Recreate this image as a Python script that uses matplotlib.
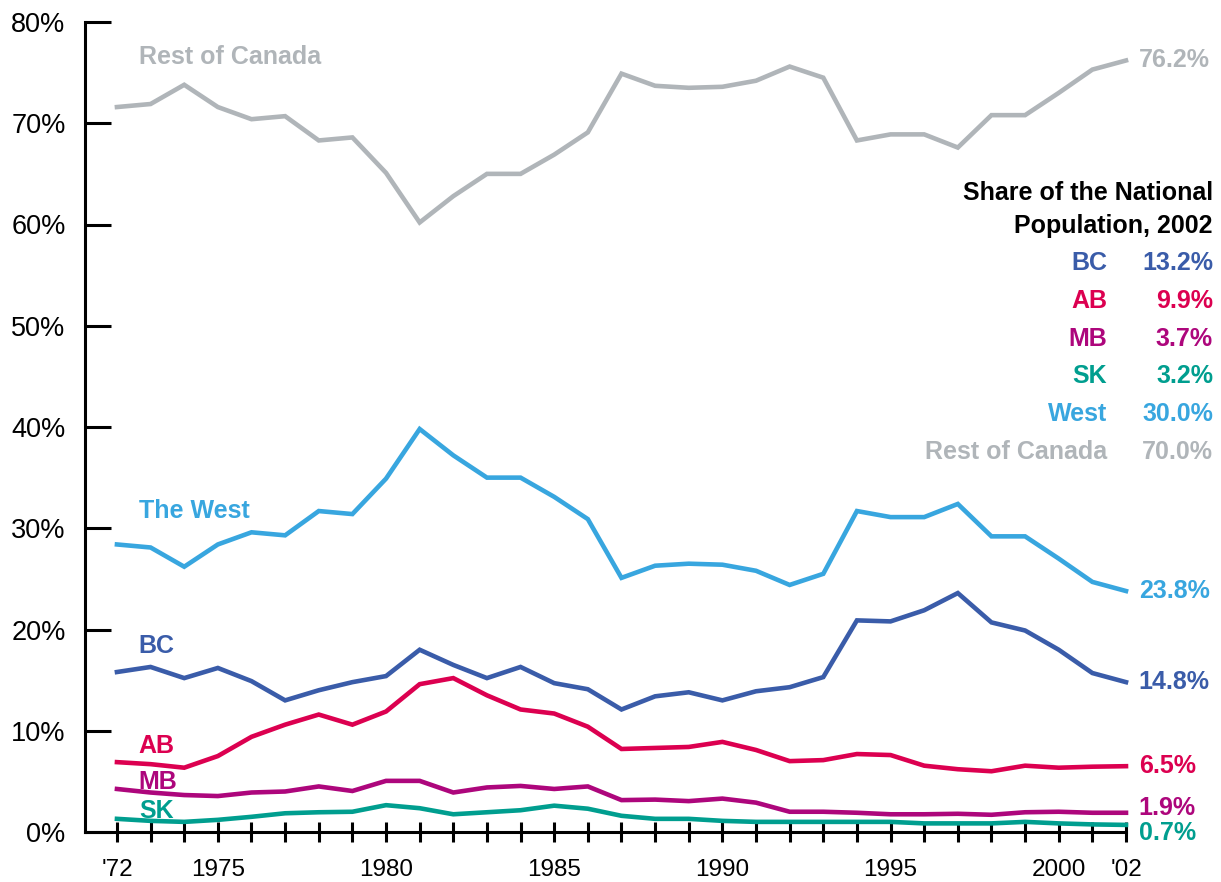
import numpy as np
import matplotlib
matplotlib.use("Agg")
import matplotlib.pyplot as plt

plt.rcParams['font.family'] = ['Liberation Sans Narrow', 'Liberation Sans', 'DejaVu Sans']

years = list(range(1972, 2003))

rest_of_canada = [71.6, 71.9, 73.8, 71.6, 70.4, 70.7, 68.3, 68.6, 65.1, 60.2, 62.8, 65.0, 65.0, 66.9,
                  69.1, 74.9, 73.7, 73.5, 73.6, 74.2, 75.6, 74.5, 68.3, 68.9, 68.9, 67.6, 70.8, 70.8,
                  73.0, 75.3, 76.2]
west = [28.4, 28.1, 26.2, 28.4, 29.6, 29.3, 31.7, 31.4, 34.9, 39.8, 37.2, 35.0, 35.0, 33.1,
        30.9, 25.1, 26.3, 26.5, 26.4, 25.8, 24.4, 25.5, 31.7, 31.1, 31.1, 32.4, 29.2, 29.2,
        27.0, 24.7, 23.8]
bc = [15.8, 16.3, 15.2, 16.2, 14.9, 13.0, 14.0, 14.8, 15.4, 18.0, 16.5, 15.2, 16.3, 14.7,
      14.1, 12.1, 13.4, 13.8, 13.0, 13.9, 14.3, 15.3, 20.9, 20.8, 21.9, 23.6, 20.7, 19.9,
      18.0, 15.7, 14.8]
ab = [6.9, 6.7, 6.35, 7.5, 9.4, 10.6, 11.6, 10.6, 11.9, 14.6, 15.2, 13.5, 12.1, 11.7,
      10.4, 8.2, 8.3, 8.4, 8.9, 8.1, 7.0, 7.1, 7.7, 7.6, 6.55, 6.2, 6.0, 6.55, 6.35, 6.45, 6.5]
mb = [4.25, 3.9, 3.65, 3.55, 3.9, 4.0, 4.5, 4.05, 5.05, 5.05, 3.9, 4.4, 4.55, 4.25, 4.5,
      3.15, 3.2, 3.05, 3.3, 2.9, 2.0, 2.0, 1.9, 1.75, 1.75, 1.8, 1.7, 1.95, 2.0, 1.9, 1.9]
sk = [1.3, 1.1, 1.0, 1.2, 1.5, 1.85, 1.95, 2.0, 2.65, 2.35, 1.75, 1.95, 2.15, 2.6, 2.3,
      1.6, 1.3, 1.3, 1.1, 1.0, 1.0, 1.0, 1.0, 1.0, 0.85, 0.85, 0.85, 1.0, 0.85, 0.75, 0.7]

names = ['BC', 'AB', 'MB', 'SK', 'West', 'Rest of Canada']
shares_2002 = ['13.2%', '9.9%', '3.7%', '3.2%', '30.0%', '70.0%']
end_labels = ['76.2%', '23.8%', '14.8%', '6.5%', '1.9%', '0.7%']

c_gray = '#b0b5b9'
c_west = '#38a6df'
c_bc = '#3a5ca9'
c_ab = '#dc0050'
c_mb = '#ad067c'
c_sk = '#009e8f'

fig = plt.figure(figsize=(12.21, 8.82), dpi=100)
ax = fig.add_axes([85/1221, 50/882, 1041/1221, 810/882])

series = [rest_of_canada, west, bc, ab, mb, sk]
colors = [c_gray, c_west, c_bc, c_ab, c_mb, c_sk]
for vals, col in zip(series, colors):
    ax.plot(years, vals, color=col, lw=3.3, solid_joinstyle='miter', clip_on=False)

ax.set_xlim(1971.05, 2002)
ax.set_ylim(0, 80)
for s in ['top', 'right']:
    ax.spines[s].set_visible(False)
for s in ['left', 'bottom']:
    ax.spines[s].set_linewidth(2.2)

ax.set_yticks(range(0, 81, 10))
ax.set_yticklabels([f'{v}%' for v in range(0, 81, 10)])
ax.tick_params(axis='y', direction='in', length=19, width=2.2, pad=14, labelsize=19.5)

ax.set_xticks(years)
xlabels = []
for y in years:
    if y == 1972:
        xlabels.append("'72")
    elif y == 2002:
        xlabels.append("'02")
    elif y % 5 == 0:
        xlabels.append(str(y))
    else:
        xlabels.append('')
ax.set_xticklabels(xlabels)
ax.tick_params(axis='x', direction='inout', length=15, width=2.2, pad=12, labelsize=17.5)

bold = dict(fontweight='bold', family=['Liberation Sans', 'DejaVu Sans'], fontsize=18)

# series labels at the start
ax.text(1972.65, 76.5, 'Rest of Canada', color=c_gray, va='center', ha='left', **bold)
ax.text(1972.65, 31.7, 'The West', color=c_west, va='center', ha='left', **bold)
ax.text(1972.65, 18.4, 'BC', color=c_bc, va='center', ha='left', **bold)
ax.text(1972.65, 8.5, 'AB', color=c_ab, va='center', ha='left', **bold)
ax.text(1972.65, 4.9, 'MB', color=c_mb, va='center', ha='left', **bold)
ax.text(1972.65, 2.1, 'SK', color=c_sk, va='center', ha='left', **bold)

# end values
end_y = [rest_of_canada[-1], west[-1], bc[-1], ab[-1], mb[-1] + 0.5, sk[-1] - 0.8]
for lab, yv, col in zip(end_labels, end_y, colors):
    ax.text(2002.38, yv, lab, color=col, va='center', ha='left', clip_on=False, **bold)

# share of national population block
fig.text(1213/1221, 1 - 193/882, 'Share of the National', color='black', ha='right', va='center', **bold)
fig.text(1213/1221, 1 - 226/882, 'Population, 2002', color='black', ha='right', va='center', **bold)
row_cols = [c_bc, c_ab, c_mb, c_sk, c_west, c_gray]
for i, (nm, sh, col) in enumerate(zip(names, shares_2002, row_cols)):
    yy = 1 - (263 + i * 37.8) / 882
    fig.text(1107/1221, yy, nm, color=col, ha='right', va='center', **bold)
    fig.text(1213/1221, yy, sh, color=col, ha='right', va='center', **bold)

fig.savefig('out.png', dpi=100)
